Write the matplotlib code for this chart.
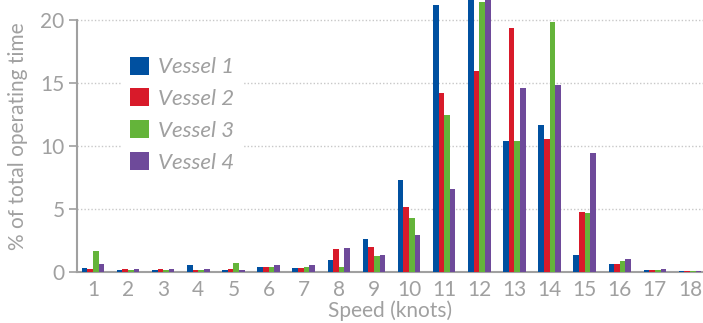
import numpy as np
import matplotlib.pyplot as plt

speeds = list(range(1, 19))
vessel_1 = [0.34, 0.18, 0.18, 0.55, 0.18, 0.42, 0.34, 0.95, 2.62, 7.29, 21.16, 23.0, 10.38, 11.65, 1.35, 0.63, 0.16, 0.08]
vessel_2 = [0.26, 0.26, 0.26, 0.18, 0.26, 0.42, 0.34, 1.85, 1.98, 5.15, 14.19, 15.93, 19.34, 10.54, 4.76, 0.63, 0.16, 0.08]
vessel_3 = [1.69, 0.18, 0.18, 0.18, 0.74, 0.42, 0.42, 0.42, 1.27, 4.28, 12.44, 21.4, 10.38, 19.81, 4.68, 0.87, 0.16, 0.08]
vessel_4 = [0.66, 0.26, 0.26, 0.26, 0.18, 0.55, 0.55, 1.90, 1.35, 2.93, 6.58, 22.5, 14.58, 14.82, 9.43, 1.03, 0.24, 0.08]
labels = ['Vessel 1', 'Vessel 2', 'Vessel 3', 'Vessel 4']
colors = ['#0050a0', '#d81a2a', '#64b43a', '#6e4a9a']

plt.rcParams['font.family'] = ['Lato', 'DejaVu Sans']
grey = '#a0a0a0'

fig = plt.figure(figsize=(7.03, 3.23), dpi=100)
ax = fig.add_axes([0.1095, 0.158, 0.8905, 0.842])

x = np.array(speeds)
w = 0.16
for i, (vals, lab, c) in enumerate(zip([vessel_1, vessel_2, vessel_3, vessel_4], labels, colors)):
    ax.bar(x + (i - 1.5) * w, vals, width=w, color=c, label=lab, zorder=3)

ax.set_xlim(0.545, 18.37)
ax.set_ylim(0, 21.55)
ax.set_yticks([0, 5, 10, 15, 20])
ax.set_xticks(speeds)
for y in [5, 10, 15, 20]:
    ax.axhline(y, color='#c8c8c8', lw=1, ls=(0, (1, 1.5)), zorder=1)

for s in ['top', 'right']:
    ax.spines[s].set_visible(False)
ax.spines['left'].set_bounds(0, 20)
ax.spines['left'].set_color(grey)
ax.spines['bottom'].set_color(grey)
ax.spines['left'].set_linewidth(1.5)
ax.spines['bottom'].set_linewidth(1.5)
ax.tick_params(axis='y', colors=grey, labelsize=15, length=6, width=1.2, pad=3)
ax.tick_params(axis='x', colors=grey, labelsize=15, length=0, pad=6)
ax.set_xlabel('Speed (knots)', color=grey, fontsize=15, labelpad=0)
ax.set_ylabel('% of total operating time', color=grey, fontsize=15, labelpad=9)

leg = ax.legend(loc='upper left', bbox_to_anchor=(0.172, 0.852), bbox_transform=fig.transFigure,
                frameon=True, fontsize=16, handlelength=0.86, handleheight=0.86,
                handletextpad=0.4, labelspacing=0.5, borderpad=0.4, borderaxespad=0)
leg.get_frame().set_facecolor('white')
leg.get_frame().set_edgecolor('none')
leg.get_frame().set_alpha(1)
leg.set_zorder(4)
for t in leg.get_texts():
    t.set_color(grey)
    t.set_fontstyle('italic')

fig.savefig('out.png', dpi=100)
